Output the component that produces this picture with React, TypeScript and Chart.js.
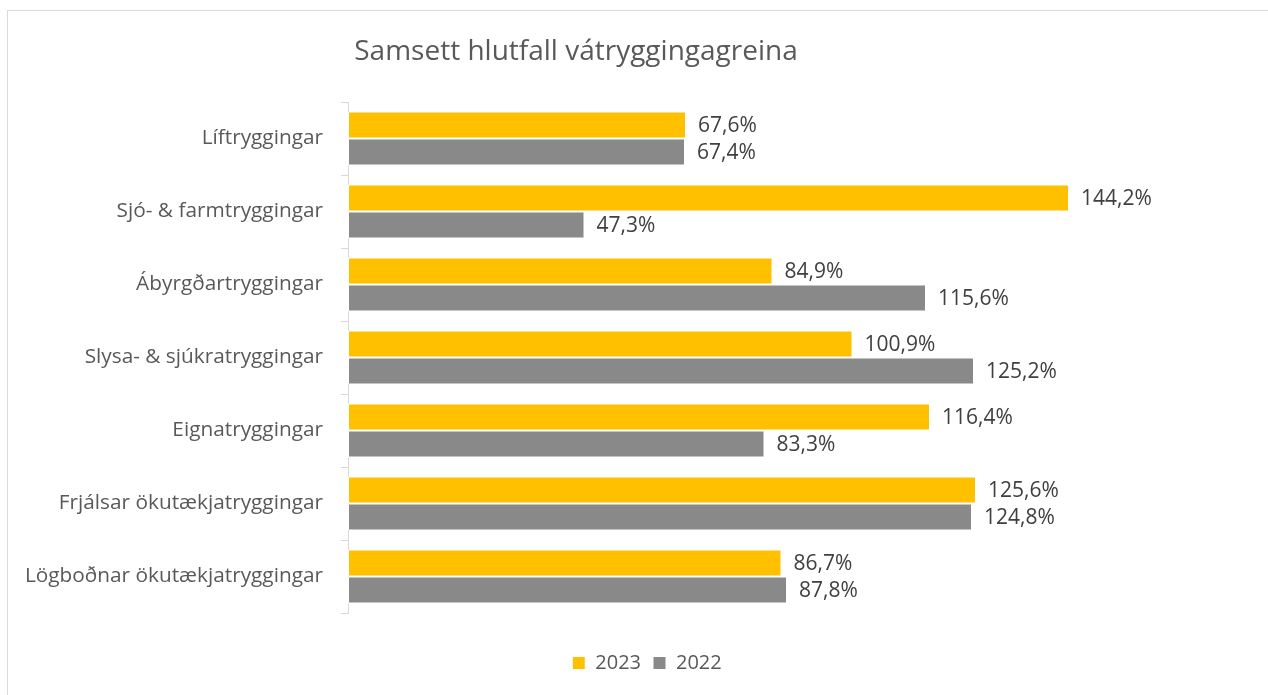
import React, { useEffect, useRef } from "react";
import { Chart, registerables } from "chart.js";

Chart.register(...registerables);

const categories = [
  "Líftryggingar",
  "Sjó- & farmtryggingar",
  "Ábyrgðartryggingar",
  "Slysa- & sjúkratryggingar",
  "Eignatryggingar",
  "Frjálsar ökutækjatryggingar",
  "Lögboðnar ökutækjatryggingar",
];
const values2023 = [67.6, 144.2, 84.9, 100.9, 116.4, 125.6, 86.7];
const values2022 = [67.4, 47.3, 115.6, 125.2, 83.3, 124.8, 87.8];
const seriesLabels = ["2023", "2022"];
const title = "Samsett hlutfall vátryggingagreina";

const FONT = '"Open Sans", "Noto Sans", sans-serif';

const fmt = (v: number) => v.toFixed(1).replace(".", ",") + "%";

const labelsPlugin = {
  id: "barLabels",
  afterDatasetsDraw(chart: any) {
    const ctx = chart.ctx;
    ctx.save();
    ctx.font = `21px ${FONT}`;
    ctx.fillStyle = "#404040";
    ctx.textAlign = "left";
    ctx.textBaseline = "middle";
    chart.data.datasets.forEach((ds: any, di: number) => {
      const meta = chart.getDatasetMeta(di);
      meta.data.forEach((bar: any, i: number) => {
        ctx.fillText(fmt(ds.data[i]), bar.x + 12, bar.y + 1);
      });
    });
    ctx.restore();
  },
};

const titlePlugin = {
  id: "customTitle",
  afterDraw(chart: any) {
    const ctx = chart.ctx;
    ctx.save();
    ctx.font = `28px ${FONT}`;
    ctx.fillStyle = "#595959";
    ctx.textAlign = "center";
    ctx.textBaseline = "middle";
    ctx.fillText(title, 568, 41);
    ctx.restore();
  },
};

export default function App() {
  const ref = useRef<HTMLCanvasElement>(null);
  useEffect(() => {
    if (!ref.current) return;
    const chart = new Chart(ref.current, {
      type: "bar",
      data: {
        labels: categories,
        datasets: [
          {
            label: seriesLabels[0],
            data: values2023,
            backgroundColor: "#FFC000",
            borderColor: "#ffffff",
            borderWidth: 1,
            borderSkipped: false,
            categoryPercentage: 0.74,
            barPercentage: 1,
          },
          {
            label: seriesLabels[1],
            data: values2022,
            backgroundColor: "#898989",
            borderColor: "#ffffff",
            borderWidth: 1,
            borderSkipped: false,
            categoryPercentage: 0.74,
            barPercentage: 1,
          },
        ],
      },
      options: {
        indexAxis: "y",
        animation: false,
        responsive: false,
        maintainAspectRatio: false,
        layout: { padding: { left: 18, top: 91, right: 0, bottom: 12 } },
        scales: {
          x: {
            min: 0,
            max: 184,
            display: true,
            grid: { display: false },
            border: { display: false },
            ticks: { display: false },
            afterFit: (s: any) => {
              s.height = 28;
            },
          },
          y: {
            grid: {
              drawOnChartArea: false,
              drawTicks: true,
              tickLength: 7,
              color: "#d9d9d9",
              offset: true,
            },
            border: { display: true, color: "#d9d9d9" },
            ticks: {
              padding: 18,
              color: "#595959",
              font: { family: FONT, size: 20.8 },
            },
            afterFit: (s: any) => {
              s.width = 322;
            },
          },
        },
        plugins: {
          title: { display: false },
          tooltip: { enabled: false },
          legend: {
            position: "bottom",
            labels: {
              boxWidth: 13,
              boxHeight: 13,
              padding: 12,
              color: "#595959",
              font: { family: FONT, size: 20 },
            },
          },
        },
      },
      plugins: [labelsPlugin, titlePlugin],
    });
    return () => chart.destroy();
  }, []);
  return (
    <div
      style={{
        position: "fixed",
        left: 7,
        top: 10,
        width: 1261,
        height: 685,
        boxSizing: "border-box",
        borderLeft: "1px solid #d9d9d9",
        borderTop: "1px solid #d9d9d9",
        background: "#fff",
      }}
    >
      <canvas ref={ref} width={1260} height={684} style={{ display: "block" }} />
    </div>
  );
}
